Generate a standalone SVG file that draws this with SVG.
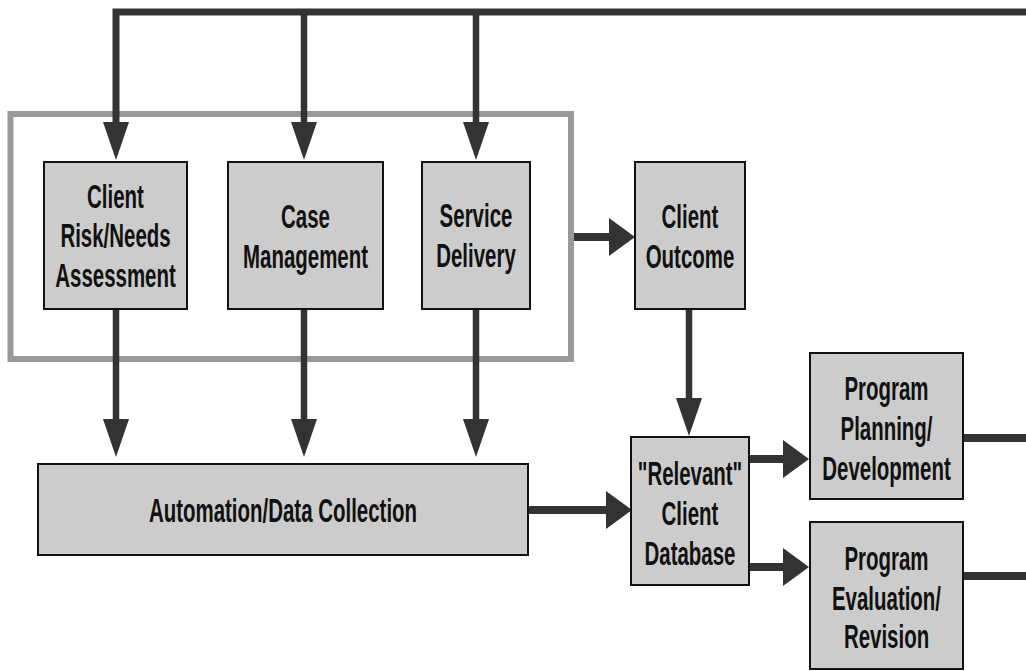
<svg xmlns="http://www.w3.org/2000/svg" xmlns:xlink="http://www.w3.org/1999/xlink" width="1026" height="671" viewBox="0 0 1026 671">
<style>
.box{fill:#cccccc;stroke:#111111;stroke-width:2}
.frame{fill:none;stroke:#999999;stroke-width:6}
.ln{fill:none;stroke:#333333;stroke-width:6.5}
.lh{fill:none;stroke:#333333;stroke-width:8}
.ah{fill:#333333}
.t{font-family:"Liberation Sans",Arial,sans-serif;font-weight:bold;font-size:33px;fill:#111111;text-anchor:middle}
</style>
<defs>
<path id="ahd" class="ah" d="M-13,0 L13,0 L0,38 Z"/>
<path id="ahr" class="ah" d="M0,-19 L0,19 L26,0 Z"/>
</defs>
<rect id="group-frame" class="frame" x="10.5" y="114" width="560.5" height="245"/>
<g id="connectors">
<path class="ln" d="M116,123 V12 H1026" style="stroke-width:7"/>
<path class="ln" d="M304,12 V123 M476,12 V123"/>
<use xlink:href="#ahd" x="116" y="122"/>
<use xlink:href="#ahd" x="304" y="122"/>
<use xlink:href="#ahd" x="476" y="122"/>
<path class="ln" d="M116,309 V420 M304,309 V420 M476,309 V420"/>
<use xlink:href="#ahd" x="116" y="419"/>
<use xlink:href="#ahd" x="304" y="419"/>
<use xlink:href="#ahd" x="476" y="419"/>
<path class="lh" d="M574,237 H611"/>
<use xlink:href="#ahr" x="609" y="237"/>
<path class="ln" d="M689,309 V399"/>
<use xlink:href="#ahd" x="689" y="398"/>
<path class="lh" d="M528,510 H608"/>
<use xlink:href="#ahr" x="606" y="510"/>
<path class="lh" d="M749,459 H785 M749,567 H785"/>
<use xlink:href="#ahr" x="783" y="459"/>
<use xlink:href="#ahr" x="783" y="567"/>
<path class="lh" d="M963,438 H1026 M963,576 H1026"/>
</g>
<g id="n-risk">
<rect class="box" x="44" y="162" width="143" height="147"/>
<g transform="translate(115.5,0) scale(0.62,1)"><text class="t" x="0" y="208">Client</text><text class="t" x="0" y="247">Risk/Needs</text><text class="t" x="0" y="287">Assessment</text></g>
</g>
<g id="n-case">
<rect class="box" x="228" y="162" width="155" height="147"/>
<g transform="translate(305.5,0) scale(0.62,1)"><text class="t" x="0" y="228">Case</text><text class="t" x="0" y="268">Management</text></g>
</g>
<g id="n-service">
<rect class="box" x="422" y="162" width="108" height="147"/>
<g transform="translate(476,0) scale(0.62,1)"><text class="t" x="0" y="227">Service</text><text class="t" x="0" y="267">Delivery</text></g>
</g>
<g id="n-outcome">
<rect class="box" x="635" y="162" width="110" height="147"/>
<g transform="translate(690,0) scale(0.62,1)"><text class="t" x="0" y="228">Client</text><text class="t" x="0" y="268">Outcome</text></g>
</g>
<g id="n-automation">
<rect class="box" x="38" y="464" width="490" height="91"/>
<g transform="translate(283,0) scale(0.62,1)"><text class="t" x="0" y="522">Automation/Data Collection</text></g>
</g>
<g id="n-database">
<rect class="box" x="631" y="437" width="118" height="148"/>
<g transform="translate(690,0) scale(0.62,1)"><text class="t" x="0" y="485">"Relevant"</text><text class="t" x="0" y="525">Client</text><text class="t" x="0" y="565">Database</text></g>
</g>
<g id="n-planning">
<rect class="box" x="810" y="353" width="153" height="146"/>
<g transform="translate(886.5,0) scale(0.62,1)"><text class="t" x="0" y="400">Program</text><text class="t" x="0" y="440">Planning/</text><text class="t" x="0" y="480">Development</text></g>
</g>
<g id="n-evaluation">
<rect class="box" x="810" y="522" width="153" height="147"/>
<g transform="translate(886.5,0) scale(0.62,1)"><text class="t" x="0" y="570">Program</text><text class="t" x="0" y="610">Evaluation/</text><text class="t" x="0" y="648">Revision</text></g>
</g>
</svg>
